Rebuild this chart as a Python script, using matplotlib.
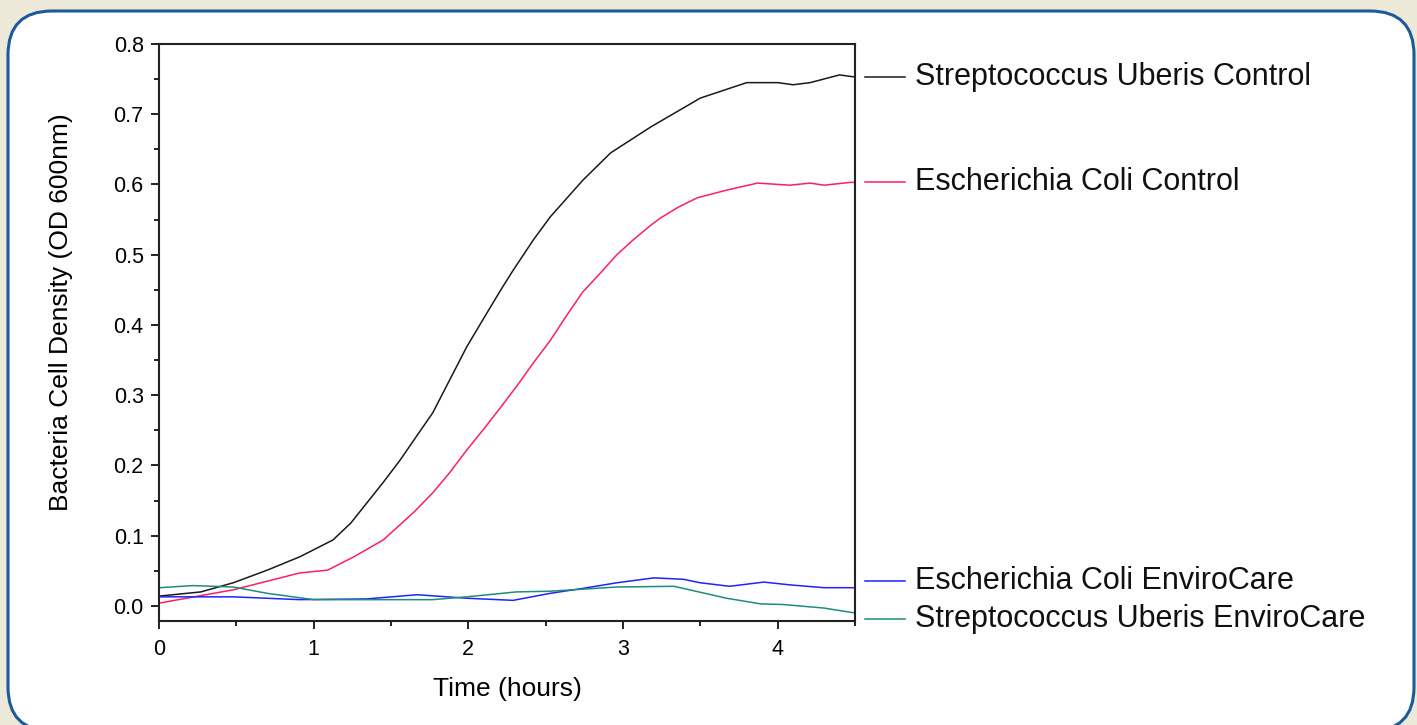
import matplotlib.pyplot as plt
import matplotlib.transforms as mtransforms
from matplotlib.patches import FancyBboxPatch
from matplotlib.ticker import MultipleLocator

plt.rcParams['font.family'] = ['Liberation Sans', 'DejaVu Sans']

# readings (time in hours, OD 600nm)
strep_ctrl_t = [0, 0.27, 0.48, 0.70, 0.91, 1.0, 1.125, 1.24, 1.345, 1.45, 1.56, 1.66, 1.77, 1.88, 1.99, 2.12,
                2.21, 2.29, 2.42, 2.53, 2.74, 2.92, 3.18, 3.50, 3.80, 4.0, 4.10, 4.21, 4.40, 4.5]
strep_ctrl_v = [0.014, 0.02, 0.033, 0.051, 0.07, 0.08, 0.094, 0.118, 0.147, 0.176, 0.208, 0.24, 0.275, 0.322, 0.369, 0.417,
                0.45, 0.478, 0.521, 0.554, 0.606, 0.645, 0.682, 0.723, 0.745, 0.745, 0.742, 0.745, 0.756, 0.753]

ecoli_ctrl_t = [0, 0.48, 0.91, 1.09, 1.26, 1.45, 1.54, 1.65, 1.77, 1.88, 1.99, 2.10, 2.21, 2.32, 2.42, 2.53, 2.64,
                2.74, 2.85, 2.96, 3.07, 3.18, 3.24, 3.36, 3.48, 3.67, 3.87, 4.08, 4.21, 4.30, 4.47, 4.5]
ecoli_ctrl_v = [0.004, 0.023, 0.047, 0.051, 0.07, 0.094, 0.112, 0.134, 0.161, 0.19, 0.222, 0.252, 0.283, 0.315,
                0.346, 0.378, 0.415, 0.447, 0.473, 0.50, 0.522, 0.542, 0.552, 0.568, 0.581, 0.592, 0.602, 0.599,
                0.602, 0.599, 0.603, 0.603]

ecoli_env_t = [0, 0.48, 0.91, 1.34, 1.67, 1.99, 2.29, 2.53, 2.74, 2.96, 3.20, 3.39, 3.50, 3.69,
               3.91, 4.08, 4.30, 4.5]
ecoli_env_v = [0.013, 0.013, 0.009, 0.010, 0.016, 0.011, 0.008, 0.018, 0.025, 0.033, 0.040, 0.038, 0.033, 0.028,
               0.034, 0.030, 0.026, 0.026]

strep_env_t = [0, 0.22, 0.48, 0.70, 1.0, 1.4, 1.77, 1.99, 2.31, 2.53, 2.96, 3.33, 3.43, 3.67,
               3.89, 4.04, 4.30, 4.5]
strep_env_v = [0.026, 0.029, 0.027, 0.018, 0.009, 0.009, 0.009, 0.013, 0.020, 0.021, 0.027, 0.028, 0.023, 0.011,
               0.003, 0.002, -0.003, -0.01]

series = [
    ('Streptococcus Uberis Control', strep_ctrl_t, strep_ctrl_v, '#1a1a1a'),
    ('Escherichia Coli Control', ecoli_ctrl_t, ecoli_ctrl_v, '#ff1f5e'),
    ('Escherichia Coli EnviroCare', ecoli_env_t, ecoli_env_v, '#2222ff'),
    ('Streptococcus Uberis EnviroCare', strep_env_t, strep_env_v, '#1f8c7c'),
]

W, H = 1417, 725
fig = plt.figure(figsize=(W / 100, H / 100), dpi=100)
fig.patch.set_facecolor('#ece9d8')

# rounded white panel, drawn in pixel units
bg = fig.add_axes([0, 0, 1, 1])
bg.set_xlim(0, W)
bg.set_ylim(H, 0)
bg.axis('off')
bg.add_patch(FancyBboxPatch((8, 11), 1406, 720, boxstyle='round,pad=0,rounding_size=44',
                            facecolor='white', edgecolor='#1d5a9c', linewidth=2.2))

ax = fig.add_axes([159 / W, 1 - 621 / H, (855 - 159) / W, (621 - 44) / H])
for name, t, v, c in series:
    ax.plot(t, v, color=c, linewidth=1.1)

ax.set_xlim(0, 4.5)
ax.set_ylim(-0.0214, 0.8)
ax.xaxis.set_major_locator(MultipleLocator(1))
ax.xaxis.set_minor_locator(MultipleLocator(0.5))
ax.yaxis.set_major_locator(MultipleLocator(0.1))
ax.yaxis.set_minor_locator(MultipleLocator(0.05))
ax.set_yticklabels([f'{y:.1f}' for y in ax.get_yticks()])
ax.tick_params(which='major', direction='out', length=6, width=1.4, labelsize=15.5, color='#222222')
ax.tick_params(axis='x', which='major', pad=7)
ax.tick_params(axis='y', which='major', pad=5)
ax.tick_params(which='minor', direction='out', length=3.6, width=1.4, color='#222222')
for s in ax.spines.values():
    s.set_linewidth(1.5)
    s.set_color('#222222')

ax.set_xlabel('Time (hours)', fontsize=19, labelpad=12)
ax.set_ylabel('Bacteria Cell Density (OD 600nm)', fontsize=19)
ax.yaxis.set_label_coords(-0.123, 0.535)

# end-of-line labels, nudged apart where they would collide
ends = [v[-1] for _, _, v, _ in series]
order = sorted(range(len(ends)), key=lambda i: -ends[i])
gap = 0.054
ys = [ends[i] for i in order]
for _ in range(50):
    moved = False
    for k in range(len(ys) - 1):
        if ys[k] - ys[k + 1] < gap:
            m = (ys[k] + ys[k + 1]) / 2
            ys[k] = m + gap / 2
            ys[k + 1] = m - gap / 2
            moved = True
    if not moved:
        break
pos = dict(zip(order, ys))

tr = mtransforms.blended_transform_factory(ax.transAxes, ax.transData)
for i, (name, t, v, c) in enumerate(series):
    y = pos[i]
    ax.plot([1.0144, 1.072], [y, y], color=c, linewidth=1.1, transform=tr, clip_on=False)
    ax.text(1.086, y, name, fontsize=22, va='center', ha='left', transform=tr, color='#111111')

fig.savefig('out.png', dpi=100, facecolor=fig.get_facecolor())
